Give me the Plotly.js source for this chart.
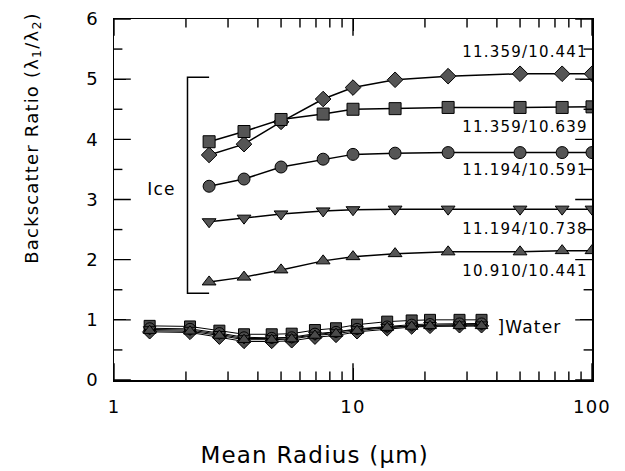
<!DOCTYPE html>
<html><head><meta charset="utf-8">
<script src="https://cdn.plot.ly/plotly-3.0.1.min.js"></script>
<style>body{margin:0;background:#fff}#c{width:625px;height:471px}.main-svg text{letter-spacing:1.2px}</style>
</head><body><div id="c"></div>
<script>
// Ice radii (µm)
const iceRadius = [2.5, 3.5, 5, 7.5, 10, 15, 25, 50, 75, 100];
const ice_11359_10441 = [3.74, 3.92, 4.29, 4.67, 4.86, 4.99, 5.05, 5.09, 5.09, 5.09];
const ice_11359_10639 = [3.96, 4.13, 4.33, 4.42, 4.50, 4.51, 4.53, 4.53, 4.53, 4.54];
const ice_11194_10591 = [3.22, 3.34, 3.54, 3.67, 3.75, 3.77, 3.78, 3.78, 3.78, 3.78];
const ice_11194_10738 = [2.63, 2.69, 2.76, 2.81, 2.83, 2.84, 2.84, 2.84, 2.84, 2.84];
const ice_10910_10441 = [1.63, 1.71, 1.83, 1.98, 2.05, 2.10, 2.13, 2.13, 2.15, 2.15];

// Water radii (µm)
const waterRadius = [1.41, 2.08, 2.76, 3.5, 4.57, 5.54, 6.93, 8.49, 10.4, 13.9, 17.6, 21, 27.9, 34.5];
const water_11359_10441 = [0.80, 0.79, 0.71, 0.64, 0.64, 0.65, 0.71, 0.74, 0.80, 0.85, 0.88, 0.89, 0.90, 0.90];
const water_11359_10639 = [0.90, 0.89, 0.82, 0.76, 0.76, 0.77, 0.83, 0.86, 0.92, 0.97, 0.99, 1.00, 1.00, 1.00];
const water_11194_10591 = [0.86, 0.85, 0.78, 0.71, 0.70, 0.71, 0.77, 0.80, 0.85, 0.89, 0.92, 0.93, 0.94, 0.94];
const water_11194_10738 = [0.84, 0.83, 0.76, 0.69, 0.69, 0.70, 0.75, 0.79, 0.84, 0.88, 0.90, 0.91, 0.92, 0.92];
const water_10910_10441 = [0.82, 0.81, 0.74, 0.67, 0.67, 0.68, 0.74, 0.77, 0.82, 0.87, 0.89, 0.90, 0.90, 0.90];

const seriesLabels = ["11.359/10.441", "11.359/10.639", "11.194/10.591", "11.194/10.738", "10.910/10.441"];
const labelY = [5.45, 4.2, 3.49, 2.51, 1.82];
const symbols = ["diamond", "square", "circle", "triangle-down", "triangle-up"];

// Tick values
const xMajorTicks = [1, 10, 100];
const xTickText = ["1", "10", "100"];
const xMinorTicks = [2, 3, 4, 5, 6, 7, 8, 9, 20, 30, 40, 50, 60, 70, 80, 90];
const yMajorTicks = [0, 1, 2, 3, 4, 5, 6];
const yMinorTicks = [0.5, 1.5, 2.5, 3.5, 4.5, 5.5];

// Ice bracket (radius, ratio)
const bracketX = [2.5, 2.03, 2.03, 2.5];
const bracketY = [5.03, 5.03, 1.44, 1.44];

const iceSets = [ice_11359_10441, ice_11359_10639, ice_11194_10591, ice_11194_10738, ice_10910_10441];
const waterSets = [water_11359_10441, water_11359_10639, water_11194_10591, water_11194_10738, water_10910_10441];

const F = "DejaVu Sans, sans-serif";
const xRange = [0, 2], yRange = [0, 6];
const xLo = Math.pow(10, xRange[0]), xHi = Math.pow(10, xRange[1]);

const traces = [];
traces.push({x: bracketX, y: bracketY, type: 'scatter', mode: 'lines',
  line: {color: '#000', width: 1.5}, showlegend: false, hoverinfo: 'skip'});
waterSets.forEach((ys, i) => {
  traces.push({x: waterRadius, y: ys, type: 'scatter', mode: 'lines+markers',
    line: {color: '#000', width: 1},
    marker: {symbol: symbols[i], size: 11, color: '#4a4a4a', line: {color: '#000', width: 1}},
    showlegend: false, name: 'Water ' + seriesLabels[i]});
});
iceSets.forEach((ys, i) => {
  traces.push({x: iceRadius, y: ys, type: 'scatter', mode: 'lines+markers',
    line: {color: '#000', width: 1.5},
    marker: {symbol: symbols[i], size: 12, color: '#555', line: {color: '#000', width: 1}},
    showlegend: false, name: 'Ice ' + seriesLabels[i]});
});
// inward tick marks as line markers on the frame (outer half clipped)
function xTickTrace(vals, size) {
  traces.push({x: vals.concat(vals), y: vals.map(() => yRange[0]).concat(vals.map(() => yRange[1])),
    type: 'scatter', mode: 'markers', cliponaxis: true, hoverinfo: 'skip', showlegend: false,
    marker: {symbol: 'line-ns', size: size, color: '#000', line: {color: '#000', width: 1.4}}});
}
function yTickTrace(vals, size) {
  traces.push({x: vals.map(() => xLo).concat(vals.map(() => xHi)), y: vals.concat(vals),
    type: 'scatter', mode: 'markers', cliponaxis: true, hoverinfo: 'skip', showlegend: false,
    marker: {symbol: 'line-ew', size: size, color: '#000', line: {color: '#000', width: 1.4}}});
}
xTickTrace(xMajorTicks, 24);
xTickTrace(xMinorTicks, 12);
yTickTrace(yMajorTicks, 24);
yTickTrace(yMinorTicks, 12);

const annotations = seriesLabels.map((t, i) => ({
  text: t, xref: 'paper', yref: 'y', x: 0.979, y: labelY[i], xanchor: 'right', yanchor: 'middle',
  showarrow: false, font: {family: F, size: 15, color: '#000'}
}));
annotations.push({text: 'Ice', xref: 'paper', yref: 'y', x: 0.10, y: 3.17, xanchor: 'center', yanchor: 'middle',
  showarrow: false, font: {family: F, size: 17, color: '#000'}});
annotations.push({text: ']Water', xref: 'paper', yref: 'y', x: 0.805, y: 0.88, xanchor: 'left', yanchor: 'middle',
  showarrow: false, font: {family: F, size: 17, color: '#000'}});
annotations.push({text: 'Backscatter Ratio (λ<sub>1</sub>/λ<sub>2</sub>)', xref: 'paper', yref: 'paper',
  x: -0.17, y: 0.67, xanchor: 'center', yanchor: 'middle', textangle: -90,
  showarrow: false, font: {family: F, size: 18, color: '#000'}});
annotations.push({text: 'Mean Radius (μm)', xref: 'paper', yref: 'paper',
  x: 0.42, y: -0.207, xanchor: 'center', yanchor: 'middle',
  showarrow: false, font: {family: F, size: 23, color: '#000'}});

const layout = {
  width: 625, height: 471,
  margin: {l: 114, r: 33, t: 19, b: 91},
  xaxis: {type: 'log', range: xRange, tickmode: 'array', tickvals: xMajorTicks, ticktext: xTickText,
    ticks: 'inside', ticklen: 12, tickcolor: '#000', ticklabelstandoff: 10,
    showline: true, linecolor: '#000', linewidth: 1.5, mirror: 'allticks', showgrid: false, zeroline: false,
    tickfont: {family: F, size: 18, color: '#000'}},
  yaxis: {range: yRange, tickmode: 'array', tickvals: yMajorTicks,
    ticks: 'inside', ticklen: 12, tickcolor: '#000', ticklabelstandoff: 10,
    showline: true, linecolor: '#000', linewidth: 1.5, mirror: 'allticks', showgrid: false, zeroline: false,
    tickfont: {family: F, size: 18, color: '#000'}},
  annotations: annotations,
  showlegend: false
};
Plotly.newPlot('c', traces, layout, {displayModeBar: false, staticPlot: true});
</script></body></html>
